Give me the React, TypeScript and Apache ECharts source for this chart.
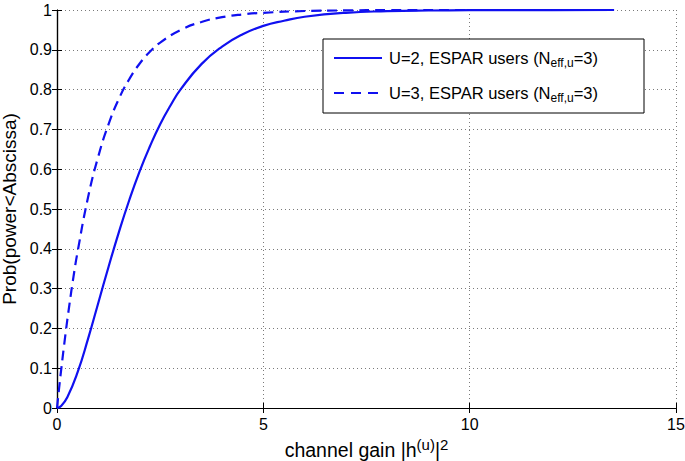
import React, { useEffect, useRef } from "react";
import * as echarts from "echarts";

const solidName = "U=2, ESPAR users (Neff,u=3)";
const dashedName = "U=3, ESPAR users (Neff,u=3)";

const solidX = [0, 0.1, 0.25, 0.5, 0.75, 1, 1.25, 1.5, 1.75, 2, 2.25, 2.5, 2.75, 3, 3.5, 4, 4.5, 5, 5.5, 6, 7, 8, 9, 10, 11, 12, 13.5];
const solidY = [0, 0.005, 0.027, 0.09, 0.173, 0.264, 0.355, 0.442, 0.522, 0.594, 0.657, 0.713, 0.76, 0.801, 0.864, 0.908, 0.939, 0.96, 0.973, 0.983, 0.993, 0.997, 0.9988, 0.9995, 0.9998, 0.9999, 1.0];

const dashedX = [0, 0.05, 0.1, 0.2, 0.3, 0.4, 0.5, 0.75, 1, 1.25, 1.5, 1.75, 2, 2.25, 2.5, 3, 3.5, 4, 4.5, 5, 6, 7, 8, 10, 12, 13.5];
const dashedY = [0, 0.049, 0.095, 0.181, 0.259, 0.33, 0.393, 0.528, 0.632, 0.713, 0.777, 0.826, 0.865, 0.895, 0.918, 0.95, 0.97, 0.982, 0.989, 0.993, 0.9975, 0.999, 0.9997, 1.0, 1.0, 1.0];

const xTicks = [0, 5, 10, 15];
const yTicks = [0, 0.1, 0.2, 0.3, 0.4, 0.5, 0.6, 0.7, 0.8, 0.9, 1];

const FONT = "Liberation Sans, Arial, Helvetica, sans-serif";
const BLUE = "#1010f0";

export default function App() {
  const ref = useRef<HTMLDivElement>(null);
  useEffect(() => {
    if (!ref.current) return;
    const chart = echarts.init(ref.current, undefined, { renderer: "svg" });
    const gridLine = { show: true, lineStyle: { color: "#7a7a7a", type: [1, 3] as any, width: 1 } };
    const axisLine = { show: true, lineStyle: { color: "#000", width: 1.2 } };
    const tick = { show: true, inside: true, length: 5, lineStyle: { color: "#000" } };
    const legRich = {
      n: { fontSize: 16.5, fontFamily: FONT, color: "#000" },
      sub: { fontSize: 12, fontFamily: FONT, color: "#000", verticalAlign: "bottom", padding: [9, 0, 0, 0] },
    };
    const legText = (label: string) =>
      "{n|" + label.replace("Neff,u=3)", "N") + "}{sub|eff,u}{n|=3)}";
    const LX = 323, LY = 39, LW = 321, LH = 74;
    chart.setOption({
      animation: false,
      backgroundColor: "#fff",
      grid: { left: 57, right: 9, top: 10, bottom: 53, containLabel: false, outerBoundsMode: "none" },
      xAxis: [
        {
          type: "value",
          min: xTicks[0],
          max: xTicks[xTicks.length - 1],
          interval: 5,
          axisLine,
          axisTick: tick,
          splitLine: gridLine,
          axisLabel: { color: "#000", fontSize: 16, fontFamily: FONT, margin: 8 },
          name: "{n|channel gain |h}{sup|(u)}{n||}{sup|2}",
          nameLocation: "middle",
          nameGap: 21,
          nameTextStyle: {
            fontSize: 19.5,
            fontFamily: FONT,
            color: "#000",
            rich: {
              n: { fontSize: 19.5, fontFamily: FONT, color: "#000" },
              sup: { fontSize: 15, fontFamily: FONT, color: "#000", verticalAlign: "top", padding: [0, 0, 11, 0] },
            },
          },
        },
        {
          type: "value",
          position: "top",
          min: 0,
          max: 15,
          interval: 5,
          axisLine,
          axisTick: tick,
          splitLine: { show: false },
          axisLabel: { show: false },
        },
      ],
      yAxis: [
        {
          type: "value",
          min: yTicks[0],
          max: yTicks[yTicks.length - 1],
          interval: 0.1,
          axisLine,
          axisTick: tick,
          splitLine: gridLine,
          axisLabel: { color: "#000", fontSize: 16, fontFamily: FONT, margin: 5 },
          name: "Prob(power<Abscissa)",
          nameLocation: "middle",
          nameGap: 31,
          nameTextStyle: { fontSize: 19, fontFamily: FONT, color: "#000" },
        },
        {
          type: "value",
          position: "right",
          min: 0,
          max: 1,
          interval: 0.1,
          axisLine,
          axisTick: tick,
          splitLine: { show: false },
          axisLabel: { show: false },
        },
      ],
      graphic: [
        {
          type: "rect",
          shape: { x: LX, y: LY, width: LW, height: LH },
          style: { fill: "#fff", stroke: "#000", lineWidth: 1 },
          z: 100,
        },
        {
          type: "line",
          shape: { x1: LX + 11, y1: LY + 19, x2: LX + 59, y2: LY + 19 },
          style: { stroke: BLUE, lineWidth: 2.2 },
          z: 101,
        },
        {
          type: "line",
          shape: { x1: LX + 11, y1: LY + 54, x2: LX + 59, y2: LY + 54 },
          style: { stroke: BLUE, lineWidth: 2.2, lineDash: [10, 7] },
          z: 101,
        },
        {
          type: "text",
          x: LX + 66,
          y: LY + 19,
          style: { text: legText(solidName), rich: legRich, verticalAlign: "middle", align: "left", font: "16.5px " + FONT },
          z: 101,
        },
        {
          type: "text",
          x: LX + 66,
          y: LY + 54,
          style: { text: legText(dashedName), rich: legRich, verticalAlign: "middle", align: "left", font: "16.5px " + FONT },
          z: 101,
        },
      ],
      series: [
        {
          name: solidName,
          type: "line",
          data: solidX.map((x, i) => [x, solidY[i]]),
          showSymbol: false,
          symbol: "none",
          smooth: true,
          lineStyle: { color: BLUE, width: 2.2, type: "solid" },
          itemStyle: { color: BLUE },
        },
        {
          name: dashedName,
          type: "line",
          data: dashedX.map((x, i) => [x, dashedY[i]]),
          showSymbol: false,
          symbol: "none",
          smooth: true,
          lineStyle: { color: BLUE, width: 2.2, type: [10, 6] as any },
          itemStyle: { color: BLUE },
        },
      ],
    });
    return () => chart.dispose();
  }, []);
  return (
    <div
      ref={ref}
      style={{ position: "fixed", left: 0, top: 0, width: 685, height: 461, background: "#fff" }}
    />
  );
}
